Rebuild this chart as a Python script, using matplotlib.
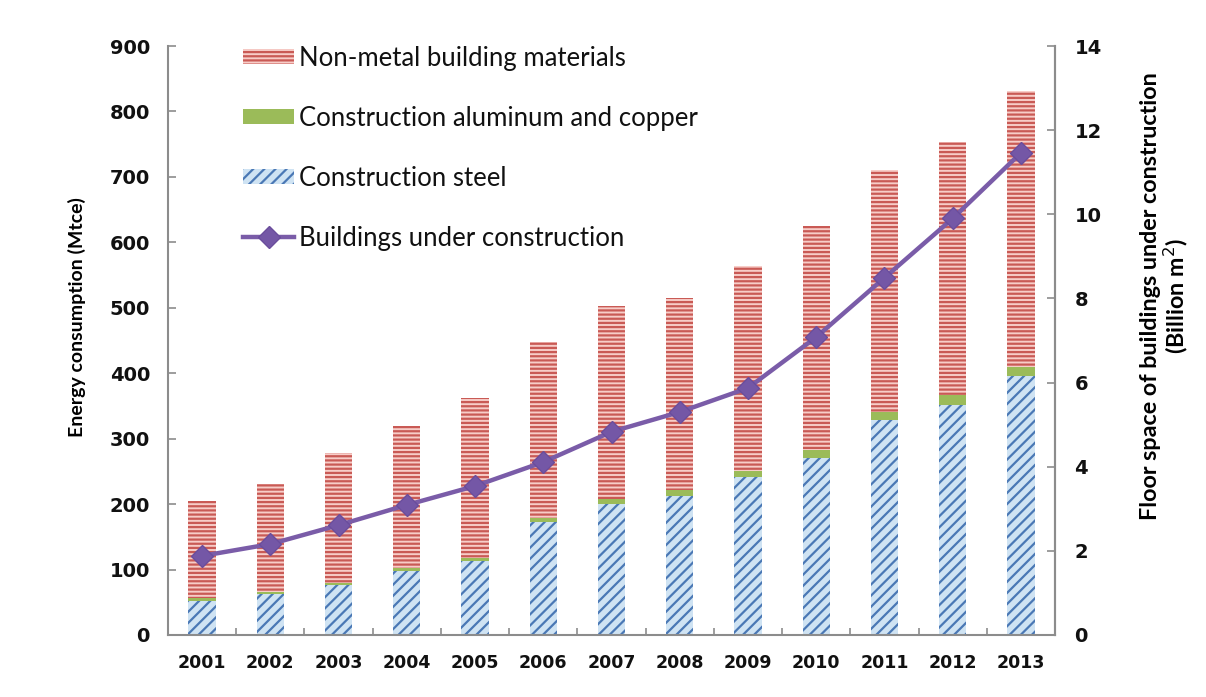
import numpy as np
import matplotlib
matplotlib.use("Agg")
import matplotlib.pyplot as plt

years = ["2001", "2002", "2003", "2004", "2005", "2006", "2007",
         "2008", "2009", "2010", "2011", "2012", "2013"]
steel = [52, 62, 76, 97, 113, 172, 200, 213, 241, 270, 328, 352, 395]
alu_copper = [4, 3, 4, 5, 5, 7, 8, 9, 10, 12, 13, 15, 15]
total = [205, 230, 278, 320, 362, 448, 503, 515, 564, 625, 710, 753, 832]
non_metal = [t - s - a for t, s, a in zip(total, steel, alu_copper)]
floor_space = [1.88, 2.16, 2.61, 3.09, 3.54, 4.11, 4.83, 5.30, 5.87, 7.08,
               8.49, 9.90, 11.46]

C_RED = "#c95a55"
C_PINK = "#f7cdc8"
C_BLUE = "#4a78b5"
C_LBLUE = "#cfe3f3"
C_GREEN = "#9bbb59"
C_PURPLE = "#7a5ca8"
C_SPINE = "#8c8c8c"

plt.rcParams["hatch.linewidth"] = 1.6
plt.rcParams["font.family"] = ["DejaVu Sans"]
LABEL_FONT = ["Lato", "DejaVu Sans"]

fig = plt.figure(figsize=(12.06, 6.97), dpi=100)
ax = fig.add_axes([0.1393, 0.0890, 0.7355, 0.8450])

x = np.arange(len(years))
w = 0.40
b_steel = ax.bar(x, steel, w, color=C_LBLUE, edgecolor=C_BLUE, hatch="///",
                 linewidth=0, label="Construction steel")
b_alu = ax.bar(x, alu_copper, w, bottom=steel, color=C_GREEN, linewidth=0,
               label="Construction aluminum and copper")
bottom2 = [s + a for s, a in zip(steel, alu_copper)]
b_non = ax.bar(x, non_metal, w, bottom=bottom2, color=C_PINK, edgecolor=C_RED,
               hatch="----", linewidth=0, label="Non-metal building materials")

ax.set_xlim(-0.5, len(years) - 0.5)
ax.set_ylim(0, 900)
ax.set_yticks(np.arange(0, 901, 100))
ax.set_xticks(x)
ax.set_xticklabels(years)
ax.set_xticks(np.arange(0.5, len(years) - 1, 1), minor=True)
ax.tick_params(axis="x", which="major", length=0, pad=14, labelsize=12.5,
               labelcolor="#111111")
ax.tick_params(axis="x", which="minor", length=5, direction="in",
               color=C_SPINE, width=1.2)
ax.tick_params(axis="y", direction="in", length=6, color=C_SPINE, width=1.2,
               pad=13, labelsize=14, labelcolor="#111111")
for lab in ax.get_yticklabels() + ax.get_xticklabels():
    lab.set_fontweight("bold")

ax.spines["top"].set_visible(False)
for s in ("left", "bottom", "right"):
    ax.spines[s].set_color(C_SPINE)
    ax.spines[s].set_linewidth(1.5)

ax.set_ylabel("Energy consumption (Mtce)", fontsize=14, fontweight="bold",
              family=LABEL_FONT)
ax.yaxis.set_label_coords(-0.093, 0.54)

ax2 = ax.twinx()
ax2.set_ylim(0, 14)
ax2.set_yticks(np.arange(0, 15, 2))
ax2.tick_params(axis="y", direction="in", length=6, color=C_SPINE, width=1.2,
                pad=14, labelsize=14, labelcolor="#111111")
for lab in ax2.get_yticklabels():
    lab.set_fontweight("bold")
ax2.spines["top"].set_visible(False)
ax2.spines["right"].set_color(C_SPINE)
ax2.spines["right"].set_linewidth(1.5)
ax2.spines["left"].set_visible(False)
ax2.spines["bottom"].set_visible(False)

line, = ax2.plot(x, floor_space, color=C_PURPLE, linewidth=3.2, marker="D",
                 markersize=11.5, markerfacecolor="#7457a6",
                 markeredgecolor="#6a4d9c", markeredgewidth=1.0,
                 label="Buildings under construction")

ax2.set_ylabel("Floor space of buildings under construction\n(Billion m$^2$)",
               fontsize=16.8, fontweight="bold", family=LABEL_FONT,
               linespacing=1.02)
ax2.yaxis.set_label_coords(1.0955, 0.575)

handles = [b_non, b_alu, b_steel, line]
labels = [h.get_label() for h in handles]
leg = ax.legend(handles, labels, loc="upper left",
                bbox_to_anchor=(0.0728, 1.018), frameon=False,
                prop={"family": LABEL_FONT, "size": 18.5},
                labelspacing=1.36, handlelength=2.0, handleheight=0.5,
                handletextpad=0.2, borderaxespad=0)
for t in leg.get_texts():
    t.set_color("#111111")

fig.savefig("out.png", dpi=100)
